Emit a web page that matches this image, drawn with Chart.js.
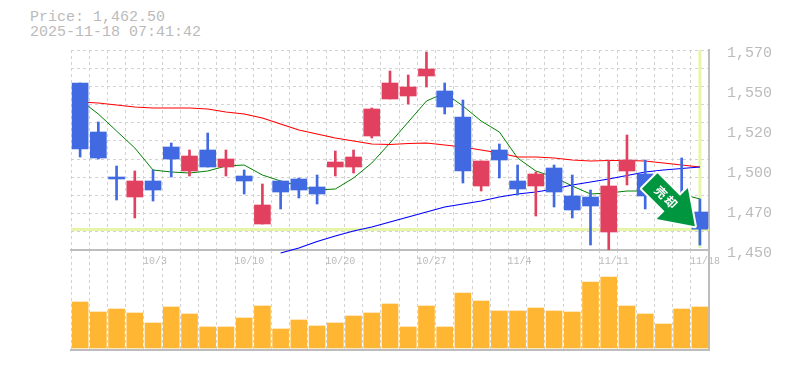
<!DOCTYPE html>
<html>
<head>
<meta charset="utf-8">
<style>
  html, body { margin: 0; padding: 0; background: #fff; overflow: hidden; }
  #wrap { position: relative; width: 785px; height: 370px; }
  #title { position: absolute; left: 30px; top: 10px; font: 15px/15px "Liberation Mono", monospace; color: #bbb; white-space: pre; }
  canvas { position: absolute; left: 0; }
  #volChart { top: 250px; }
  #priceChart { top: 0; }
</style>
</head>
<body>
<div id="wrap">
  <div id="title">Price: 1,462.50
2025-11-18 07:41:42</div>
  <canvas id="volChart" width="785" height="120"></canvas>
  <canvas id="priceChart" width="785" height="275"></canvas>
</div>
<script src="https://cdn.jsdelivr.net/npm/chart.js@4"></script>
<script>
const dates = ['9/26', '9/29', '9/30', '10/1', '10/3', '10/4', '10/5', '10/6', '10/7', '10/10',
  '10/13', '10/14', '10/15', '10/16', '10/20', '10/21', '10/22', '10/23', '10/24', '10/27',
  '10/28', '10/29', '10/30', '10/31', '11/4', '11/5', '11/6', '11/7', '11/10', '11/11',
  '11/12', '11/13', '11/14', '11/17', '11/18'];
const tickDates = ['10/3', '10/10', '10/20', '10/27', '11/4', '11/11', '11/18'];
const priceTicks = [1570, 1546, 1522, 1498, 1474, 1450];

const opens = [1550.2, 1520.8, 1493.8, 1481.8, 1491.4, 1511.8, 1497.4, 1510, 1499.8, 1494.4,
  1465.6, 1491.4, 1492.6, 1487.8, 1499.8, 1499.8, 1518.4, 1540.6, 1542.4, 1554.4,
  1545.4, 1529.8, 1488.4, 1510, 1491.4, 1488.4, 1499.2, 1482.4, 1481.8, 1460.8,
  1497.4, 1495.6, 1486, 1483, 1472.8];
const closes = [1510.6, 1505.2, 1492.6, 1491.4, 1486, 1504.6, 1506.4, 1499.8, 1504.6, 1491.4,
  1477, 1484.8, 1486, 1483.6, 1502.8, 1505.8, 1534.6, 1550.2, 1547.8, 1558.6,
  1535.8, 1497.4, 1503.4, 1504, 1486.6, 1495.6, 1484.8, 1474, 1476.4, 1488.4,
  1504, 1482.4, 1477, 1472.8, 1462.5];
const highs = [1550.2, 1526.8, 1500.4, 1497.4, 1498, 1514.2, 1510, 1520.2, 1510, 1498,
  1489.6, 1491.4, 1493.2, 1495, 1509.4, 1510, 1535.2, 1557.4, 1555, 1568.8,
  1550.2, 1540, 1503.4, 1513.6, 1501, 1496.8, 1501, 1495, 1486, 1504,
  1519, 1504, 1490.2, 1505.2, 1480.6];
const lows = [1505.8, 1504.6, 1480, 1469.2, 1479.4, 1493.8, 1494.4, 1499.8, 1494.4, 1483.6,
  1465.6, 1474.6, 1481.2, 1477.6, 1494.4, 1496.2, 1517.2, 1540.6, 1537.6, 1547.8,
  1531.6, 1490.2, 1485.4, 1493.2, 1483, 1470.4, 1475.8, 1469.2, 1453, 1450,
  1489, 1474.6, 1474, 1471, 1453];

const maShort = [1540, 1531.6, 1521.4, 1511.2, 1498, 1496.8, 1496.2, 1497.4, 1500.4, 1501,
  1495, 1491.4, 1488.4, 1486, 1486.6, 1493.2, 1502.2, 1514.2, 1526.8, 1539.4,
  1544.2, 1536.4, 1527.4, 1520.8, 1505.2, 1497.4, 1493.8, 1488.4, 1483.6, 1484.2,
  1485.4, 1485.4, 1485.4, 1483.6, 1480.6];
const maMid = [1538.8, 1538.2, 1537, 1535.8, 1535.2, 1535.2, 1535.2, 1534.6, 1532.8, 1531.6,
  1529.2, 1525.6, 1522, 1519.6, 1517.2, 1515.4, 1513.6, 1513.3, 1513.9, 1514.2,
  1513, 1511.8, 1510, 1508.2, 1505.8, 1505.8, 1505.2, 1504, 1503.4, 1503.7,
  1503.7, 1503.4, 1502.2, 1501, 1499.8];
const maLong = [null, null, null, null, null, null, null, null, null, null, null,
  1448.2, 1451.2, 1455.1, 1458.4, 1461.4, 1463.8, 1466.8, 1469.8, 1472.8,
  1475.8, 1477.6, 1479.4, 1481.8, 1483.6, 1484.8, 1486.6, 1489, 1490.8, 1492.6,
  1494.7, 1496.8, 1498, 1498.9, 1499.8];

const volumes = [46, 36, 39, 35, 25, 41, 34, 21, 21, 30,
  42, 19, 28, 22, 25, 32, 35, 44, 21, 42,
  21, 55, 47, 37, 37, 40, 37, 36, 66, 71,
  42, 34, 24, 39, 41];

const lastPrice = 1462.5;
const signalText = '売却';

const BLUE = '#4169e1';
const RED = '#e2405f';
const GRID = '#d2d2d2';
const AXIS = '#bdbdbd';
const MARK = '#e6f5a8';
const DASH = [3, 3];

const candleColors = opens.map((o, i) => (closes[i] >= o ? RED : BLUE));

// last price cross, sits under the candles
const lastPriceLines = {
  id: 'lastPriceLines',
  beforeDatasetsDraw(chart) {
    const { ctx, chartArea, scales } = chart;
    const y = scales.y.getPixelForValue(lastPrice);
    const x = scales.x.getPixelForValue(dates.length - 1);
    ctx.save();
    ctx.fillStyle = MARK;
    ctx.fillRect(chartArea.left, Math.round(y) - 1, chartArea.right - chartArea.left, 3);
    ctx.fillRect(x - 1.5, chartArea.top, 3, chartArea.bottom - chartArea.top - 2);
    ctx.restore();
  },
};

// the sell arrow on top of everything, tip on the last candle
const sellArrow = {
  id: 'sellArrow',
  afterDatasetsDraw(chart) {
    const { ctx, scales } = chart;
    const tipX = scales.x.getPixelForValue(dates.length - 1) - 5;
    const tipY = scales.y.getPixelForValue(lastPrice) - 3;
    ctx.save();
    ctx.translate(tipX, tipY);
    ctx.rotate(Math.PI / 4);
    ctx.beginPath();
    ctx.moveTo(0, 0);
    ctx.lineTo(-32, -22);
    ctx.lineTo(-32, -11);
    ctx.lineTo(-64, -11);
    ctx.lineTo(-64, 11);
    ctx.lineTo(-32, 11);
    ctx.lineTo(-32, 22);
    ctx.closePath();
    ctx.lineJoin = 'round';
    ctx.lineWidth = 4;
    ctx.strokeStyle = '#fff';
    ctx.stroke();
    ctx.fillStyle = '#009640';
    ctx.fill();
    ctx.fillStyle = '#fff';
    ctx.font = 'bold 12px "Noto Sans CJK JP"';
    ctx.letterSpacing = '2px';
    ctx.textAlign = 'center';
    ctx.textBaseline = 'middle';
    ctx.fillText(signalText, -40, 0);
    ctx.restore();
  },
};

Chart.defaults.animation = false;
Chart.defaults.responsive = false;

new Chart(document.getElementById('priceChart'), {
  type: 'bar',
  data: {
    labels: dates,
    datasets: [
      { type: 'bar', data: opens.map((o, i) => [o, closes[i]]), backgroundColor: candleColors, barThickness: 16, grouped: false, order: 1 },
      { type: 'bar', data: lows.map((l, i) => [l, highs[i]]), backgroundColor: candleColors, barThickness: 2, grouped: false, order: 2 },
      { type: 'line', data: maShort, borderColor: '#008000', borderWidth: 1, pointRadius: 0, tension: 0, order: 5 },
      { type: 'line', data: maMid, borderColor: '#ff0000', borderWidth: 1.2, pointRadius: 0, tension: 0, order: 4 },
      { type: 'line', data: maLong, borderColor: '#0000ff', borderWidth: 1.2, pointRadius: 0, tension: 0, clip: false, order: 3 },
    ],
  },
  options: {
    layout: { padding: { left: 71, top: 50 } },
    plugins: { legend: { display: false }, tooltip: { enabled: false } },
    scales: {
      x: {
        offset: true,
        afterFit(scale) { scale.height = 25; },
        grid: { color: GRID, lineWidth: 1, drawTicks: false },
        border: { color: AXIS, width: 2, dash: DASH },
        ticks: {
          autoSkip: false,
          maxRotation: 0,
          align: 'start',
          labelOffset: -10,
          padding: 5,
          color: '#bbb',
          font: { family: '"Liberation Mono", monospace', size: 10 },
          callback(value) {
            const d = dates[value];
            return tickDates.includes(d) ? d : '';
          },
        },
      },
      y: {
        position: 'right',
        min: 1450,
        max: 1570,
        afterFit(scale) { scale.width = 76; },
        afterBuildTicks(scale) { scale.ticks = priceTicks.map((value) => ({ value })); },
        grid: { display: false },
        border: { color: AXIS, width: 2 },
        ticks: {
          padding: 10,
          labelOffset: 3,
          color: '#bbb',
          font: { family: '"Liberation Mono", monospace', size: 15 },
          callback(value) {
            const rounded = Math.round(value / 10) * 10;
            return rounded.toLocaleString('en-US');
          },
        },
      },
      // horizontal grid has its own divisions, the labels do not follow it
      gridY: {
        position: 'right',
        min: 0,
        max: 11,
        afterFit(scale) { scale.width = 0; },
        grid: { color: GRID, drawTicks: false },
        border: { display: false, dash: DASH },
        ticks: { display: false, stepSize: 1 },
      },
    },
  },
  plugins: [lastPriceLines, sellArrow],
});

new Chart(document.getElementById('volChart'), {
  type: 'bar',
  data: {
    labels: dates,
    datasets: [{ data: volumes, backgroundColor: '#ffb733', barThickness: 16 }],
  },
  options: {
    layout: { padding: { left: 71, bottom: 20 } },
    plugins: { legend: { display: false }, tooltip: { enabled: false } },
    scales: {
      x: {
        offset: true,
        afterFit(scale) { scale.height = 0; },
        grid: { color: GRID, drawTicks: false },
        border: { color: AXIS, width: 2, dash: DASH },
        ticks: { display: false },
      },
      y: {
        position: 'right',
        min: -2,
        max: 98,
        afterFit(scale) { scale.width = 76; },
        grid: { display: false },
        border: { color: AXIS, width: 2 },
        ticks: { display: false },
      },
    },
  },
});
</script>
</body>
</html>
